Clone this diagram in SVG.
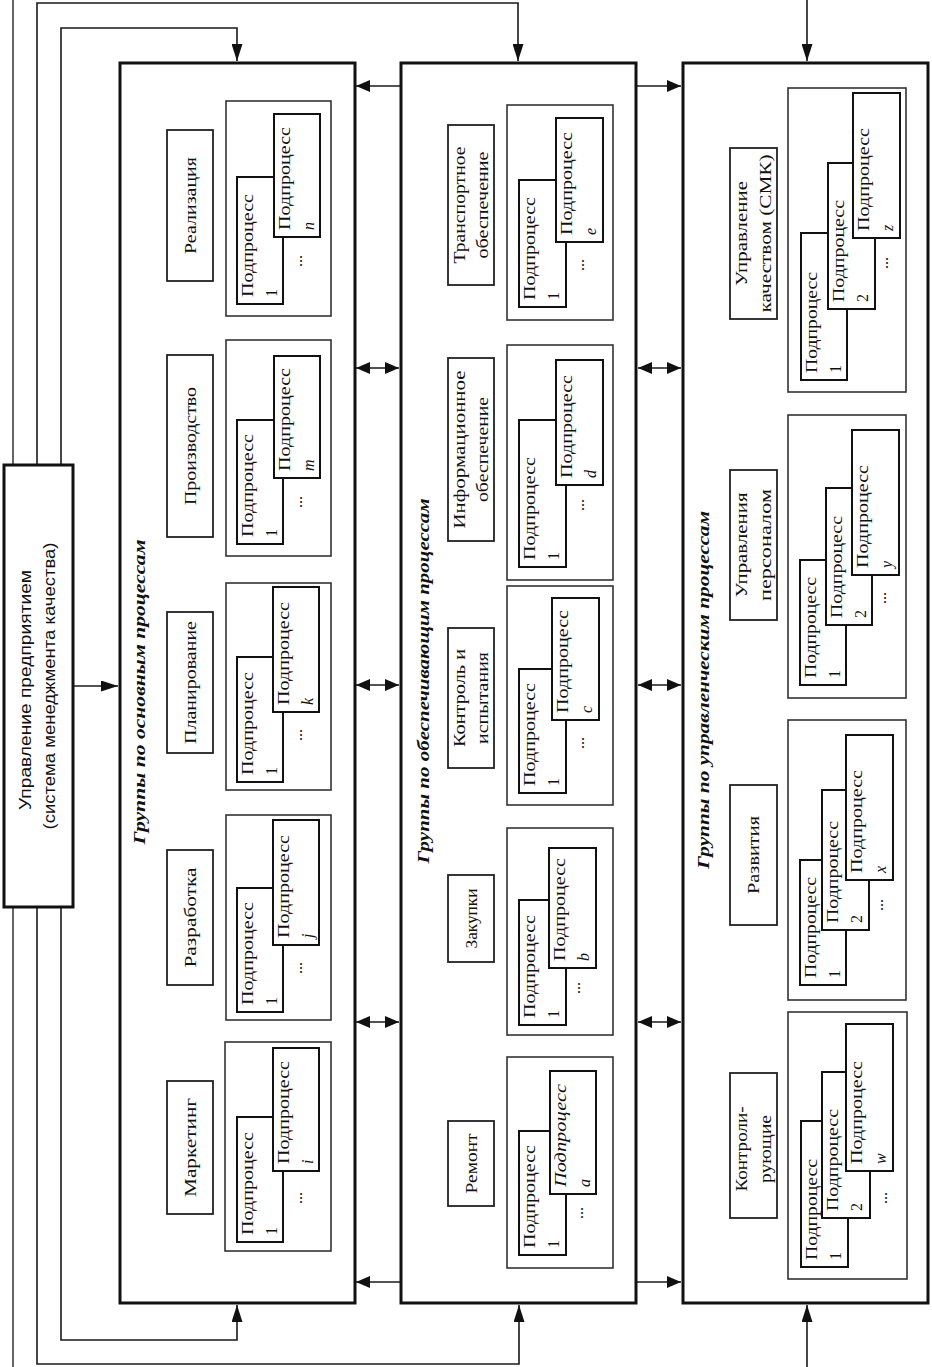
<svg xmlns="http://www.w3.org/2000/svg" width="932" height="1367" viewBox="0 0 932 1367">
<style>
.col{fill:#fff;stroke:#111;stroke-width:3}
.cont{fill:#fff;stroke:#333;stroke-width:1.6}
.lbl{fill:#fff;stroke:#222;stroke-width:1.8}
.sub{fill:#fff;stroke:#111;stroke-width:2}
.ln{fill:none;stroke:#1a1a1a;stroke-width:1.6}
.g{fill:none;stroke:#555;stroke-width:1.8}
.t{font-family:"Liberation Serif",serif;font-size:17px;fill:#111}
.s{font-family:"Liberation Serif",serif;font-size:16px;fill:#111}
.i{font-style:italic}
.h{font-family:"Liberation Serif",serif;font-size:17px;font-weight:bold;font-style:italic;fill:#111}
.m{font-family:"Liberation Sans",sans-serif;font-size:16px;fill:#111}
</style>
<defs>
<marker id="av" viewBox="0 0 17 11" refX="17" refY="5.5" markerWidth="17" markerHeight="11" markerUnits="userSpaceOnUse" orient="auto-start-reverse"><path d="M0,0 L17,5.5 L0,11 z" fill="#111"/></marker>
<marker id="ah" viewBox="0 0 14 12" refX="14" refY="6" markerWidth="14" markerHeight="12" markerUnits="userSpaceOnUse" orient="auto-start-reverse"><path d="M0,0 L14,6 L0,12 z" fill="#111"/></marker>
</defs>
<rect width="932" height="1367" fill="#fff"/>

<g id="connectors">
<path class="g" d="M13,0 V465 M13,907 V1367"/>
<path class="ln" d="M37,465 V3 H518 V61" marker-end="url(#av)"/>
<path class="ln" d="M61,465 V28 H237 V61" marker-end="url(#av)"/>
<path class="ln" d="M37,907 V1364 H519 V1305" marker-end="url(#av)"/>
<path class="ln" d="M61,907 V1340 H237 V1305" marker-end="url(#av)"/>
<path class="ln" d="M807,0 V61" marker-end="url(#av)"/>
<path class="ln" d="M807,1367 V1305" marker-end="url(#av)"/>
<path class="ln" d="M73,686 H118" marker-end="url(#av)"/>
<path class="ln" d="M356,86 H681" marker-start="url(#ah)" marker-end="url(#ah)"/>
<path class="ln" d="M356,1282 H681" marker-start="url(#ah)" marker-end="url(#ah)"/>
<path class="ln" d="M356,368 H399" marker-start="url(#ah)" marker-end="url(#ah)"/>
<path class="ln" d="M356,685 H399" marker-start="url(#ah)" marker-end="url(#ah)"/>
<path class="ln" d="M356,1022 H399" marker-start="url(#ah)" marker-end="url(#ah)"/>
<path class="ln" d="M638,368 H681" marker-start="url(#ah)" marker-end="url(#ah)"/>
<path class="ln" d="M638,685 H681" marker-start="url(#ah)" marker-end="url(#ah)"/>
<path class="ln" d="M638,1022 H681" marker-start="url(#ah)" marker-end="url(#ah)"/>
</g>

<g id="management">
<rect class="col" x="4" y="465" width="69" height="442"/>
<text class="m" transform="translate(31,690) rotate(-90)" text-anchor="middle" textLength="240" lengthAdjust="spacingAndGlyphs">Управление предприятием</text>
<text class="m" transform="translate(55,686) rotate(-90)" text-anchor="middle" textLength="287" lengthAdjust="spacingAndGlyphs">(система менеджмента качества)</text>
</g>

<!-- LEFT COLUMN -->
<g id="col-main">
<rect class="col" x="120" y="63" width="235" height="1240"/>
<text class="h" transform="translate(145,692) rotate(-90)" text-anchor="middle" textLength="305" lengthAdjust="spacingAndGlyphs">Группы по основным процессам</text>
</g>

<g id="g-realizaciya">
<rect class="lbl" x="167" y="130" width="46" height="151"/>
<text class="t" transform="translate(196,205.5) rotate(-90)" text-anchor="middle" textLength="97" lengthAdjust="spacingAndGlyphs">Реализация</text>
<rect class="cont" x="226" y="101" width="105" height="215"/>
<rect class="sub" x="237" y="177" width="46" height="127"/>
<text class="s" transform="translate(253,297) rotate(-90)" textLength="103" lengthAdjust="spacingAndGlyphs">Подпроцесс</text>
<text class="s" transform="translate(277,297) rotate(-90)">1</text>
<text class="s" transform="translate(302,261) rotate(-90)" text-anchor="middle">...</text>
<rect class="sub" x="274" y="114" width="46" height="123"/>
<text class="s" transform="translate(290,230) rotate(-90)" textLength="103" lengthAdjust="spacingAndGlyphs">Подпроцесс</text>
<text class="s i" transform="translate(314,230) rotate(-90)">n</text>
</g>

<g id="g-proizvodstvo">
<rect class="lbl" x="167" y="355" width="46" height="182"/>
<text class="t" transform="translate(196,446) rotate(-90)" text-anchor="middle" textLength="118" lengthAdjust="spacingAndGlyphs">Производство</text>
<rect class="cont" x="226" y="340" width="105" height="216"/>
<rect class="sub" x="237" y="420" width="46" height="124"/>
<text class="s" transform="translate(253,537) rotate(-90)" textLength="103" lengthAdjust="spacingAndGlyphs">Подпроцесс</text>
<text class="s" transform="translate(277,537) rotate(-90)">1</text>
<text class="s" transform="translate(302,502) rotate(-90)" text-anchor="middle">...</text>
<rect class="sub" x="274" y="356" width="46" height="122"/>
<text class="s" transform="translate(290,471) rotate(-90)" textLength="103" lengthAdjust="spacingAndGlyphs">Подпроцесс</text>
<text class="s i" transform="translate(314,471) rotate(-90)">m</text>
</g>

<g id="g-planirovanie">
<rect class="lbl" x="167" y="612" width="46" height="141"/>
<text class="t" transform="translate(196,682.5) rotate(-90)" text-anchor="middle" textLength="123" lengthAdjust="spacingAndGlyphs">Планирование</text>
<rect class="cont" x="226" y="583" width="105" height="207"/>
<rect class="sub" x="237" y="657" width="46" height="125"/>
<text class="s" transform="translate(253,775) rotate(-90)" textLength="103" lengthAdjust="spacingAndGlyphs">Подпроцесс</text>
<text class="s" transform="translate(277,775) rotate(-90)">1</text>
<text class="s" transform="translate(302,735) rotate(-90)" text-anchor="middle">...</text>
<rect class="sub" x="273" y="587" width="46" height="125"/>
<text class="s" transform="translate(289,705) rotate(-90)" textLength="103" lengthAdjust="spacingAndGlyphs">Подпроцесс</text>
<text class="s i" transform="translate(313,705) rotate(-90)">k</text>
</g>

<g id="g-razrabotka">
<rect class="lbl" x="167" y="850" width="46" height="135"/>
<text class="t" transform="translate(196,917.5) rotate(-90)" text-anchor="middle" textLength="100" lengthAdjust="spacingAndGlyphs">Разработка</text>
<rect class="cont" x="226" y="815" width="105" height="205"/>
<rect class="sub" x="237" y="888" width="46" height="124"/>
<text class="s" transform="translate(253,1005) rotate(-90)" textLength="103" lengthAdjust="spacingAndGlyphs">Подпроцесс</text>
<text class="s" transform="translate(277,1005) rotate(-90)">1</text>
<text class="s" transform="translate(302,968) rotate(-90)" text-anchor="middle">...</text>
<rect class="sub" x="273" y="820" width="46" height="125"/>
<text class="s" transform="translate(289,938) rotate(-90)" textLength="103" lengthAdjust="spacingAndGlyphs">Подпроцесс</text>
<text class="s i" transform="translate(313,938) rotate(-90)">j</text>
</g>

<g id="g-marketing">
<rect class="lbl" x="167" y="1081" width="46" height="133"/>
<text class="t" transform="translate(196,1147.5) rotate(-90)" text-anchor="middle" textLength="99" lengthAdjust="spacingAndGlyphs">Маркетинг</text>
<rect class="cont" x="225" y="1042" width="106" height="209"/>
<rect class="sub" x="237" y="1117" width="46" height="125"/>
<text class="s" transform="translate(253,1235) rotate(-90)" textLength="103" lengthAdjust="spacingAndGlyphs">Подпроцесс</text>
<text class="s" transform="translate(277,1235) rotate(-90)">1</text>
<text class="s" transform="translate(302,1198) rotate(-90)" text-anchor="middle">...</text>
<rect class="sub" x="273" y="1048" width="46" height="123"/>
<text class="s" transform="translate(289,1164) rotate(-90)" textLength="103" lengthAdjust="spacingAndGlyphs">Подпроцесс</text>
<text class="s i" transform="translate(313,1164) rotate(-90)">i</text>
</g>

<!-- MIDDLE COLUMN -->
<g id="col-support">
<rect class="col" x="401" y="63" width="235" height="1240"/>
<text class="h" transform="translate(429,681) rotate(-90)" text-anchor="middle" textLength="365" lengthAdjust="spacingAndGlyphs">Группы по обеспечивающим процессам</text>
</g>

<g id="g-transport">
<rect class="lbl" x="448" y="125" width="46" height="160"/>
<text class="t" transform="translate(465,205) rotate(-90)" text-anchor="middle" textLength="117" lengthAdjust="spacingAndGlyphs">Транспортное</text>
<text class="t" transform="translate(488,205) rotate(-90)" text-anchor="middle" textLength="107" lengthAdjust="spacingAndGlyphs">обеспечение</text>
<rect class="cont" x="507" y="105" width="106" height="215"/>
<rect class="sub" x="519" y="180" width="47" height="127"/>
<text class="s" transform="translate(535,300) rotate(-90)" textLength="103" lengthAdjust="spacingAndGlyphs">Подпроцесс</text>
<text class="s" transform="translate(559,300) rotate(-90)">1</text>
<text class="s" transform="translate(584,265) rotate(-90)" text-anchor="middle">...</text>
<rect class="sub" x="556" y="118" width="47" height="124"/>
<text class="s" transform="translate(572,235) rotate(-90)" textLength="103" lengthAdjust="spacingAndGlyphs">Подпроцесс</text>
<text class="s i" transform="translate(596,235) rotate(-90)">e</text>
</g>

<g id="g-inform">
<rect class="lbl" x="448" y="358" width="46" height="183"/>
<text class="t" transform="translate(465,449.5) rotate(-90)" text-anchor="middle" textLength="158" lengthAdjust="spacingAndGlyphs">Информационное</text>
<text class="t" transform="translate(488,449.5) rotate(-90)" text-anchor="middle" textLength="105" lengthAdjust="spacingAndGlyphs">обеспечение</text>
<rect class="cont" x="507" y="345" width="106" height="235"/>
<rect class="sub" x="519" y="420" width="47" height="147"/>
<text class="s" transform="translate(535,560) rotate(-90)" textLength="103" lengthAdjust="spacingAndGlyphs">Подпроцесс</text>
<text class="s" transform="translate(559,560) rotate(-90)">1</text>
<text class="s" transform="translate(584,505) rotate(-90)" text-anchor="middle">...</text>
<rect class="sub" x="556" y="360" width="47" height="125"/>
<text class="s" transform="translate(572,478) rotate(-90)" textLength="103" lengthAdjust="spacingAndGlyphs">Подпроцесс</text>
<text class="s i" transform="translate(596,478) rotate(-90)">d</text>
</g>

<g id="g-kontrol">
<rect class="lbl" x="448" y="628" width="46" height="140"/>
<text class="t" transform="translate(465,698) rotate(-90)" text-anchor="middle" textLength="98" lengthAdjust="spacingAndGlyphs">Контроль и</text>
<text class="t" transform="translate(488,698) rotate(-90)" text-anchor="middle" textLength="92" lengthAdjust="spacingAndGlyphs">испытания</text>
<rect class="cont" x="507" y="586" width="106" height="219"/>
<rect class="sub" x="519" y="669" width="47" height="124"/>
<text class="s" transform="translate(535,786) rotate(-90)" textLength="103" lengthAdjust="spacingAndGlyphs">Подпроцесс</text>
<text class="s" transform="translate(559,786) rotate(-90)">1</text>
<text class="s" transform="translate(584,743) rotate(-90)" text-anchor="middle">...</text>
<rect class="sub" x="552" y="598" width="47" height="122"/>
<text class="s" transform="translate(568,713) rotate(-90)" textLength="103" lengthAdjust="spacingAndGlyphs">Подпроцесс</text>
<text class="s i" transform="translate(592,713) rotate(-90)">c</text>
</g>

<g id="g-zakupki">
<rect class="lbl" x="448" y="875" width="46" height="87"/>
<text class="t" transform="translate(477,918.5) rotate(-90)" text-anchor="middle" textLength="60" lengthAdjust="spacingAndGlyphs">Закупки</text>
<rect class="cont" x="507" y="828" width="106" height="207"/>
<rect class="sub" x="519" y="900" width="47" height="125"/>
<text class="s" transform="translate(535,1018) rotate(-90)" textLength="103" lengthAdjust="spacingAndGlyphs">Подпроцесс</text>
<text class="s" transform="translate(559,1018) rotate(-90)">1</text>
<text class="s" transform="translate(580,988) rotate(-90)" text-anchor="middle">...</text>
<rect class="sub" x="549" y="848" width="47" height="120"/>
<text class="s" transform="translate(565,961) rotate(-90)" textLength="103" lengthAdjust="spacingAndGlyphs">Подпроцесс</text>
<text class="s i" transform="translate(589,961) rotate(-90)">b</text>
</g>

<g id="g-remont">
<rect class="lbl" x="448" y="1121" width="46" height="85"/>
<text class="t" transform="translate(477,1163.5) rotate(-90)" text-anchor="middle" textLength="60" lengthAdjust="spacingAndGlyphs">Ремонт</text>
<rect class="cont" x="507" y="1057" width="106" height="211"/>
<rect class="sub" x="519" y="1131" width="47" height="124"/>
<text class="s" transform="translate(535,1248) rotate(-90)" textLength="103" lengthAdjust="spacingAndGlyphs">Подпроцесс</text>
<text class="s" transform="translate(559,1248) rotate(-90)">1</text>
<text class="s" transform="translate(583,1213) rotate(-90)" text-anchor="middle">...</text>
<rect class="sub" x="550" y="1071" width="46" height="123"/>
<text class="s i" transform="translate(566,1187) rotate(-90)" textLength="103" lengthAdjust="spacingAndGlyphs">Подпроцесс</text>
<text class="s i" transform="translate(590,1187) rotate(-90)">a</text>
</g>

<!-- RIGHT COLUMN -->
<g id="col-management">
<rect class="col" x="683" y="63" width="245" height="1240"/>
<text class="h" transform="translate(709,690) rotate(-90)" text-anchor="middle" textLength="358" lengthAdjust="spacingAndGlyphs">Группы по управленческим процессам</text>
</g>

<g id="g-smk">
<rect class="lbl" x="730" y="148" width="47" height="171"/>
<text class="t" transform="translate(747,233.5) rotate(-90)" text-anchor="middle" textLength="105" lengthAdjust="spacingAndGlyphs">Управление</text>
<text class="t" transform="translate(771,233.5) rotate(-90)" text-anchor="middle" textLength="158" lengthAdjust="spacingAndGlyphs">качеством (СМК)</text>
<rect class="cont" x="788" y="88" width="118" height="304"/>
<rect class="sub" x="801" y="233" width="46" height="147"/>
<text class="s" transform="translate(817,373) rotate(-90)" textLength="101" lengthAdjust="spacingAndGlyphs">Подпроцесс</text>
<text class="s" transform="translate(841,373) rotate(-90)">1</text>
<rect class="sub" x="828" y="163" width="47" height="146"/>
<text class="s" transform="translate(844,302) rotate(-90)" textLength="102" lengthAdjust="spacingAndGlyphs">Подпроцесс</text>
<text class="s" transform="translate(868,302) rotate(-90)">2</text>
<text class="s" transform="translate(888,263) rotate(-90)" text-anchor="middle">...</text>
<rect class="sub" x="853" y="93" width="47" height="145"/>
<text class="s" transform="translate(869,231) rotate(-90)" textLength="103" lengthAdjust="spacingAndGlyphs">Подпроцесс</text>
<text class="s i" transform="translate(893,231) rotate(-90)">z</text>
</g>

<g id="g-personal">
<rect class="lbl" x="730" y="470" width="47" height="150"/>
<text class="t" transform="translate(747,545) rotate(-90)" text-anchor="middle" textLength="105" lengthAdjust="spacingAndGlyphs">Управления</text>
<text class="t" transform="translate(771,545) rotate(-90)" text-anchor="middle" textLength="112" lengthAdjust="spacingAndGlyphs">персоналом</text>
<rect class="cont" x="788" y="415" width="118" height="283"/>
<rect class="sub" x="800" y="560" width="46" height="125"/>
<text class="s" transform="translate(816,678) rotate(-90)" textLength="101" lengthAdjust="spacingAndGlyphs">Подпроцесс</text>
<text class="s" transform="translate(840,678) rotate(-90)">1</text>
<rect class="sub" x="826" y="488" width="46" height="137"/>
<text class="s" transform="translate(842,618) rotate(-90)" textLength="102" lengthAdjust="spacingAndGlyphs">Подпроцесс</text>
<text class="s" transform="translate(866,618) rotate(-90)">2</text>
<text class="s" transform="translate(886,598) rotate(-90)" text-anchor="middle">...</text>
<rect class="sub" x="852" y="430" width="47" height="145"/>
<text class="s" transform="translate(868,568) rotate(-90)" textLength="103" lengthAdjust="spacingAndGlyphs">Подпроцесс</text>
<text class="s i" transform="translate(892,568) rotate(-90)">y</text>
</g>

<g id="g-razvitie">
<rect class="lbl" x="730" y="785" width="47" height="140"/>
<text class="t" transform="translate(759,855) rotate(-90)" text-anchor="middle" textLength="78" lengthAdjust="spacingAndGlyphs">Развития</text>
<rect class="cont" x="788" y="720" width="118" height="280"/>
<rect class="sub" x="800" y="860" width="46" height="125"/>
<text class="s" transform="translate(816,978) rotate(-90)" textLength="101" lengthAdjust="spacingAndGlyphs">Подпроцесс</text>
<text class="s" transform="translate(840,978) rotate(-90)">1</text>
<rect class="sub" x="822" y="790" width="47" height="140"/>
<text class="s" transform="translate(838,923) rotate(-90)" textLength="102" lengthAdjust="spacingAndGlyphs">Подпроцесс</text>
<text class="s" transform="translate(862,923) rotate(-90)">2</text>
<text class="s" transform="translate(883,905) rotate(-90)" text-anchor="middle">...</text>
<rect class="sub" x="846" y="735" width="47" height="145"/>
<text class="s" transform="translate(862,873) rotate(-90)" textLength="103" lengthAdjust="spacingAndGlyphs">Подпроцесс</text>
<text class="s i" transform="translate(886,873) rotate(-90)">x</text>
</g>

<g id="g-kontroliruyushchie">
<rect class="lbl" x="730" y="1073" width="47" height="145"/>
<text class="t" transform="translate(747,1149) rotate(-90)" text-anchor="middle" textLength="85" lengthAdjust="spacingAndGlyphs">Контроли-</text>
<text class="t" transform="translate(771,1149) rotate(-90)" text-anchor="middle" textLength="68" lengthAdjust="spacingAndGlyphs">рующие</text>
<rect class="cont" x="788" y="1012" width="119" height="267"/>
<rect class="sub" x="801" y="1121" width="47" height="146"/>
<text class="s" transform="translate(817,1260) rotate(-90)" textLength="101" lengthAdjust="spacingAndGlyphs">Подпроцесс</text>
<text class="s" transform="translate(841,1260) rotate(-90)">1</text>
<rect class="sub" x="822" y="1072" width="48" height="146"/>
<text class="s" transform="translate(838,1211) rotate(-90)" textLength="102" lengthAdjust="spacingAndGlyphs">Подпроцесс</text>
<text class="s" transform="translate(862,1211) rotate(-90)">2</text>
<text class="s" transform="translate(887,1198) rotate(-90)" text-anchor="middle">...</text>
<rect class="sub" x="846" y="1024" width="47" height="147"/>
<text class="s" transform="translate(862,1164) rotate(-90)" textLength="103" lengthAdjust="spacingAndGlyphs">Подпроцесс</text>
<text class="s i" transform="translate(886,1164) rotate(-90)">w</text>
</g>
</svg>
